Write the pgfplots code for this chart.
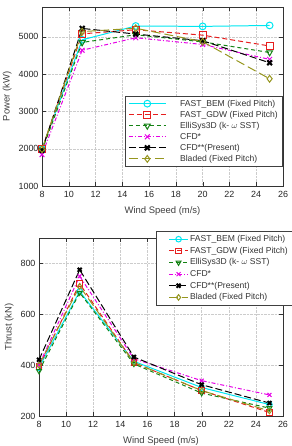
\documentclass[border=0pt]{standalone}
\usepackage{fontspec}
\setmainfont{Liberation Sans}
\usepackage{pgfplots}
\pgfplotsset{compat=1.18}

\definecolor{bemcyan}{RGB}{0,230,240}
\definecolor{gdwred}{RGB}{230,30,30}
\definecolor{ellgreen}{RGB}{20,130,20}
\definecolor{cfdmag}{RGB}{230,0,230}
\definecolor{bladolive}{RGB}{150,150,30}

\pgfplotsset{
  turbine/.style={
    scale only axis,
    xmin=8, xmax=26,
    xtick={8,10,...,26},
    grid=major,
    grid style={densely dotted, gray!40},
    axis line style={black!80, line width=0.6pt},
    tick style={black!80},
    tick align=inside,
    /pgf/number format/assume math mode=true,
    /pgf/number format/set thousands separator={},
    ticklabel style={font=\fontsize{9}{10}\selectfont, black!85},
    xticklabel style={yshift=-1.5pt},
    label style={font=\fontsize{9.5}{11}\selectfont, black!75},
    xlabel style={yshift=-2.5pt},
    xlabel={Wind Speed (m/s)},
    legend cell align=left,
    legend style={font=\fontsize{8.6}{10}\selectfont, draw=black!75, line width=0.6pt,
      text=black!80, row sep=0pt},
    every axis plot/.append style={line width=1pt},
  },
  sBEM/.style={bemcyan, solid, mark=o, mark options={solid, fill=white}},
  sGDW/.style={gdwred, dash pattern=on 5pt off 3pt, mark=square, mark options={solid}},
  sELL/.style={ellgreen, dash pattern=on 4pt off 3pt, mark=triangle, mark options={solid, rotate=180}},
  sCFD/.style={cfdmag, dash pattern=on 4pt off 2pt on 1pt off 2pt, mark=x, mark options={solid}},
  sPRE/.style={black, dash pattern=on 7pt off 3pt, mark=x, mark options={solid, line width=2pt}},
  sBLA/.style={bladolive, dash pattern=on 9pt off 4pt, mark=diamond, mark options={solid}},
}

\begin{document}
\begin{tikzpicture}
\useasboundingbox (0,0) rectangle (292bp,446bp);

% Power curve
\begin{axis}[turbine,
  at={(42bp,260bp)}, anchor=south west,
  width=241bp, height=179bp,
  ymin=1000, ymax=5800,
  ytick={1000,2000,...,5000},
  ylabel={Power (kW)},
  mark size=3.4pt,
  legend style={at={(1,0.106)}, anchor=south east, row sep=-0.6pt},
  legend image code/.code={%
    \draw[mark repeat=2, mark phase=2] plot coordinates {(0cm,0cm) (0.65cm,0cm) (1.3cm,0cm)};
    \path (1.72cm,0cm);},
]
\addplot[sBEM] coordinates {(8,1990) (11,4920) (15,5290) (20,5280) (25,5305)};
\addplot[sGDW] coordinates {(8,1985) (11,5080) (15,5190) (20,5045) (25,4755)};
\addplot[sELL] coordinates {(8,1950) (11,4850) (15,5055) (20,4865) (25,4580)};
\addplot[sCFD] coordinates {(8,1840) (11,4640) (15,4975) (20,4795) (25,4395)};
\addplot[sPRE] coordinates {(8,1960) (11,5225) (15,5075) (20,4895) (25,4305)};
\addplot[sBLA] coordinates {(8,1985) (11,5140) (15,5230) (20,4870) (25,3875)};
\legend{FAST\_BEM (Fixed Pitch), FAST\_GDW (Fixed Pitch), ElliSys3D (k- $\omega$ SST),
  CFD*, CFD**(Present), Bladed (Fixed Pitch)}
\end{axis}

% Thrust curve
\begin{axis}[turbine,
  at={(39bp,30bp)}, anchor=south west,
  width=244bp, height=178bp,
  ymin=200, ymax=900,
  ytick={200,400,600,800},
  ylabel={Thrust (kN)},
  mark size=2.8pt,
  legend style={at={(1.041,1.039)}, anchor=north east, fill=white},
  legend image code/.code={%
    \path (-0.35cm,0cm);
    \draw[mark repeat=2, mark phase=2] plot coordinates {(0cm,0cm) (0.32cm,0cm) (0.64cm,0cm)};},
]
\addplot[sBEM] coordinates {(8,390) (11,690) (15,415) (20,312) (25,245)};
\addplot[sGDW] coordinates {(8,395) (11,720) (15,410) (20,300) (25,214)};
\addplot[sELL] coordinates {(8,377) (11,685) (15,405) (20,290) (25,231)};
\addplot[sCFD] coordinates {(8,400) (11,750) (15,425) (20,339) (25,283)};
\addplot[sPRE] coordinates {(8,421) (11,775) (15,432) (20,323) (25,251)};
\addplot[sBLA] coordinates {(8,400) (11,710) (15,410) (20,300) (25,220)};
\legend{FAST\_BEM (Fixed Pitch), FAST\_GDW (Fixed Pitch), ElliSys3D (k- $\omega$ SST),
  CFD*, CFD**(Present), Bladed (Fixed Pitch)}
\end{axis}
\end{tikzpicture}
\end{document}
